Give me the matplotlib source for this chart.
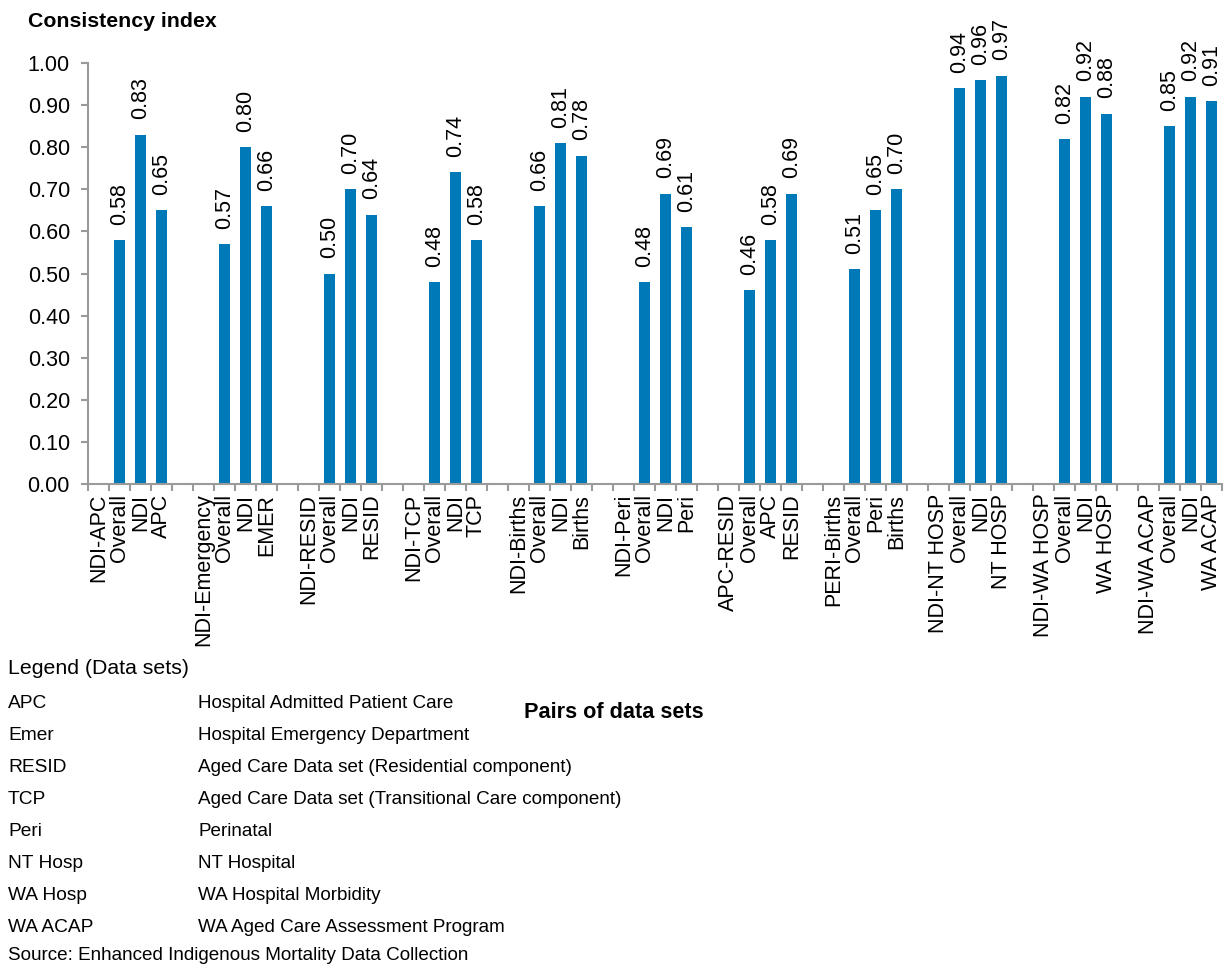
import matplotlib
matplotlib.use('Agg')
import matplotlib.pyplot as plt

# Pares de conjuntos de datos y sus indices de consistencia
pares = ['NDI-APC', 'NDI-Emergency', 'NDI-RESID', 'NDI-TCP', 'NDI-Births',
         'NDI-Peri', 'APC-RESID', 'PERI-Births', 'NDI-NT HOSP', 'NDI-WA HOSP',
         'NDI-WA ACAP']
primero = ['NDI', 'NDI', 'NDI', 'NDI', 'NDI', 'NDI', 'APC', 'Peri', 'NDI', 'NDI', 'NDI']
segundo = ['APC', 'EMER', 'RESID', 'TCP', 'Births', 'Peri', 'RESID', 'Births',
           'NT HOSP', 'WA HOSP', 'WA ACAP']
overall = [0.58, 0.57, 0.50, 0.48, 0.66, 0.48, 0.46, 0.51, 0.94, 0.82, 0.85]
val_primero = [0.83, 0.80, 0.70, 0.74, 0.81, 0.69, 0.58, 0.65, 0.96, 0.92, 0.92]
val_segundo = [0.65, 0.66, 0.64, 0.58, 0.78, 0.61, 0.69, 0.70, 0.97, 0.88, 0.91]

leyenda = [('APC', 'Hospital Admitted Patient Care'),
           ('Emer', 'Hospital Emergency Department'),
           ('RESID', 'Aged Care Data set (Residential component)'),
           ('TCP', 'Aged Care Data set (Transitional Care component)'),
           ('Peri', 'Perinatal'),
           ('NT Hosp', 'NT Hospital'),
           ('WA Hosp', 'WA Hospital Morbidity'),
           ('WA ACAP', 'WA Aged Care Assessment Program')]

AZUL = '#0079B8'
GRIS = '#9a9a9a'

# Armo la lista plana de categorias: par, Overall, primero, segundo, hueco
etiquetas = []
valores = []
for i in range(len(pares)):
    etiquetas += [pares[i], 'Overall', primero[i], segundo[i]]
    valores += [None, overall[i], val_primero[i], val_segundo[i]]
    if i < len(pares) - 1:
        etiquetas.append('')
        valores.append(None)

plt.rcParams['font.family'] = ['Liberation Sans', 'DejaVu Sans']

fig = plt.figure(figsize=(12.27, 9.66), dpi=100)
ax = fig.add_axes([88 / 1227, 1 - 484 / 966, 1134 / 1227, 421 / 966])

xs = [i for i, v in enumerate(valores) if v is not None]
hs = [v for v in valores if v is not None]
ax.bar(xs, hs, width=0.56, color=AZUL)
for x, h in zip(xs, hs):
    ax.annotate('{:.2f}'.format(h), (x, h), xytext=(0, 11), textcoords='offset points',
                rotation=90, ha='center', va='bottom', fontsize=15.5)

ax.set_xlim(-0.5, len(etiquetas) - 0.5)
ax.set_ylim(0, 1.0)
ax.set_yticks([i / 10 for i in range(11)])
ax.set_yticklabels(['{:.2f}'.format(i / 10) for i in range(11)], fontsize=15.5)
ax.set_xticks(range(len(etiquetas)))
ax.set_xticklabels(etiquetas, rotation=90, fontsize=15.5, va='top', ha='center')
ax.set_xticks([i - 0.5 for i in range(len(etiquetas) + 1)], minor=True)
ax.tick_params(axis='x', which='major', length=0, pad=7)
ax.tick_params(axis='x', which='minor', length=5, color=GRIS, width=1.5)
ax.tick_params(axis='y', length=5, color=GRIS, width=1.5, pad=8)

for s in ['top', 'right']:
    ax.spines[s].set_visible(False)
for s in ['left', 'bottom']:
    ax.spines[s].set_color(GRIS)
    ax.spines[s].set_linewidth(1.5)

fig.text(28 / 1227, 1 - 12 / 966, 'Consistency index', fontsize=15.3,
         fontweight='bold', va='top')
fig.text(614 / 1227, 1 - 713 / 966, 'Pairs of data sets', fontsize=15.6,
         fontweight='bold', ha='center', va='center')

fig.text(8 / 1227, 1 - 669 / 966, 'Legend (Data sets)', fontsize=15.3, va='center')
for j, (corto, largo) in enumerate(leyenda):
    y = 1 - (704 + 32 * j) / 966
    fig.text(8 / 1227, y, corto, fontsize=13.8, va='center')
    fig.text(198 / 1227, y, largo, fontsize=13.6, va='center')
fig.text(8 / 1227, 1 - 956 / 966, 'Source: Enhanced Indigenous Mortality Data Collection',
         fontsize=13.6, va='center')

plt.savefig('out.png', dpi=100)
plt.close()
